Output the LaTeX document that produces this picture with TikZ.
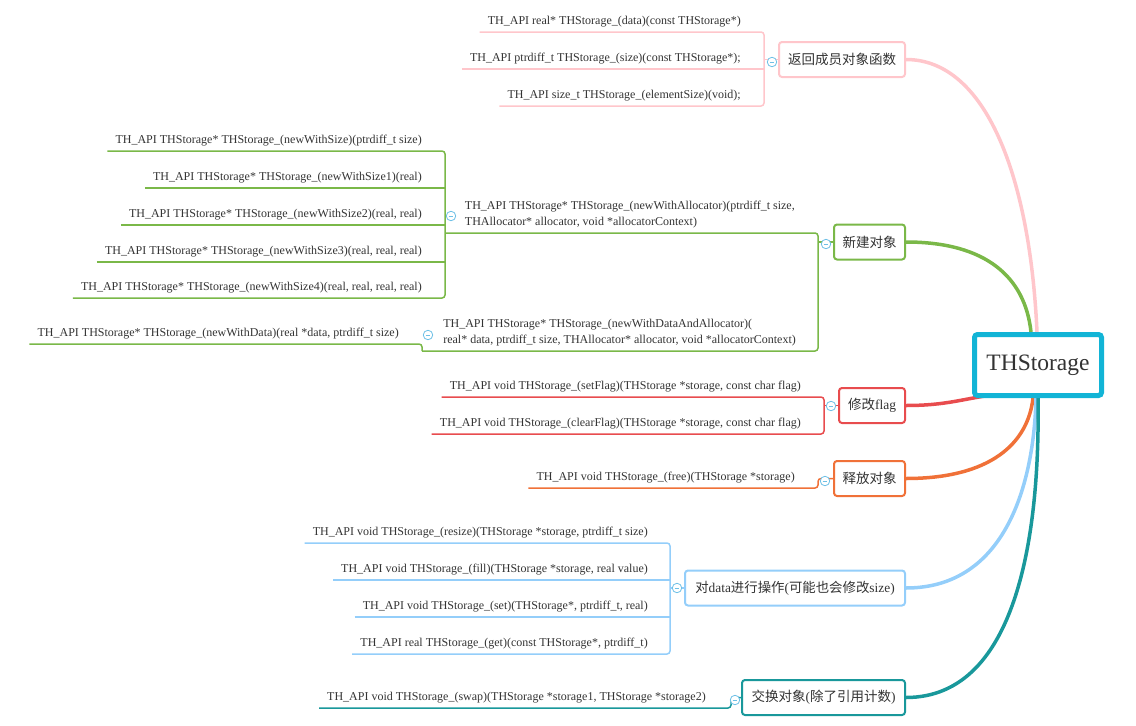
\documentclass[tikz,border=0pt]{standalone}
\usepackage{fontspec}
\setmainfont{Liberation Serif}
\newfontfamily\cjk{Noto Sans CJK SC}
\usetikzlibrary{backgrounds}
\definecolor{cpink}{RGB}{255,198,203}
\definecolor{cgreen}{RGB}{122,184,72}
\definecolor{cred}{RGB}{232,76,78}
\definecolor{corange}{RGB}{240,113,56}
\definecolor{clblue}{RGB}{148,206,250}
\definecolor{cteal}{RGB}{25,152,155}
\definecolor{croot}{RGB}{18,180,214}
\definecolor{cbtn}{RGB}{110,192,230}
\definecolor{ctext}{RGB}{51,51,51}
\begin{document}
\begin{tikzpicture}[x=1pt,y=-1pt,
  leaf/.style={inner xsep=0pt,inner ysep=0pt,text depth=7pt,text=ctext,
    font=\fontsize{12}{16}\selectfont},
  topic/.style={draw=#1,fill=white,line width=2pt,rounded corners=3pt,
    minimum height=35pt,inner xsep=4pt,text=ctext,
    font=\fontsize{13.5}{16}\selectfont,anchor=east},
  ln/.style={draw=#1,line width=1.5pt,rounded corners=3pt},
  br/.style={draw=#1,line width=3.5pt},
  btn/.style={circle,draw=cbtn,fill=white,line width=0.8pt,minimum size=9.5pt,inner sep=0pt,
    path picture={\draw[cbtn,line width=0.8pt]
      ([xshift=2.4pt]path picture bounding box.west) -- ([xshift=-2.4pt]path picture bounding box.east);}}
]
\useasboundingbox (0,0) rectangle (1136,726);

% root
\node[draw=croot,fill=white,line width=5pt,rounded corners=3pt,minimum width=127pt,minimum height=61pt,
  text=ctext,font=\fontsize{23.5}{26}\selectfont] (root) at (1038,365) {THStorage};

% main topics
\node[topic=cpink,minimum width=126pt] (b1) at (906,59.5) {\cjk 返回成员对象函数};
\node[topic=cgreen,minimum width=71pt] (b2) at (906,242) {\cjk 新建对象};
\node[topic=cred,minimum width=66pt] (b3) at (906,405.5) {{\cjk 修改}flag};
\node[topic=corange,minimum width=71pt] (b4) at (906,478.5) {\cjk 释放对象};
\node[topic=clblue,minimum width=220pt,font=\fontsize{13.4}{16}\selectfont] (b5) at (906,588) {{\cjk 对}data{\cjk 进行操作}({\cjk 可能也会修改}size)};
\node[topic=cteal,minimum width=163pt] (b6) at (906,697.5) {{\cjk 交换对象}({\cjk 除了引用计数})};

% branches
\begin{scope}[on background layer]
\draw[br=cpink] (b1.east) .. controls +(80,0) and +(-7,-155) .. ([xshift=-1pt]root.north);
\draw[br=cgreen] (b2.east) .. controls +(80,0) and +(-6,-55) .. ([xshift=-7pt]root.north);
\draw[br=cred] (b3.east) .. controls +(40,0) and +(-30,4) .. ([xshift=-46pt,yshift=3pt]root.south);
\draw[br=corange] (b4.east) .. controls +(85,0) and +(-5,45) .. ([xshift=-5pt]root.south);
\draw[br=clblue] (b5.east) .. controls +(100,0) and +(-2,85) .. ([xshift=-2pt]root.south);
\draw[br=cteal] (b6.east) .. controls +(115,0) and +(2,125) .. (root.south);
\end{scope}

% ---- pink group
\coordinate (j1) at (764,59.5);
\node[leaf,anchor=south east] (p1) at (741,32) {TH\_API real* THStorage\_(data)(const THStorage*)};
\node[leaf,anchor=south east] (p2) at (741,69) {TH\_API ptrdiff\_t THStorage\_(size)(const THStorage*);};
\node[leaf,anchor=south east] (p3) at (741,106) {TH\_API size\_t THStorage\_(elementSize)(void);};
\draw[ln=cpink] ([xshift=-8pt]p1.south west) -- (p1.south -| j1) -- (p3.south -| j1) -- ([xshift=-8pt]p3.south west);
\draw[ln=cpink] ([xshift=-8pt]p2.south west) -- (p2.south -| j1);
\draw[ln=cpink] (b1.west) -- (j1);
\node[btn] (c1) at (772,62) {};

% ---- green group
\coordinate (j2) at (818,242);
\coordinate (j3) at (445,233);
\coordinate (j4) at (422,351);
\node[leaf,anchor=south east,align=left] (ga) at (795,233) {TH\_API THStorage* THStorage\_(newWithAllocator)(ptrdiff\_t size,\\THAllocator* allocator, void *allocatorContext)};
\node[leaf,anchor=south east,align=left] (gb) at (796,351) {TH\_API THStorage* THStorage\_(newWithDataAndAllocator)(\\real* data, ptrdiff\_t size, THAllocator* allocator, void *allocatorContext)};
\draw[ln=cgreen] (j3) -- (ga.south -| j2) -- (gb.south -| j2) -- (j4);
\draw[ln=cgreen] (b2.west) -- (j2);
\node[btn] (c2) at (826,244) {};

\node[leaf,anchor=south east] (a1) at (422,151) {TH\_API THStorage* THStorage\_(newWithSize)(ptrdiff\_t size)};
\node[leaf,anchor=south east] (a2) at (422,188) {TH\_API THStorage* THStorage\_(newWithSize1)(real)};
\node[leaf,anchor=south east] (a3) at (422,225) {TH\_API THStorage* THStorage\_(newWithSize2)(real, real)};
\node[leaf,anchor=south east] (a4) at (422,262) {TH\_API THStorage* THStorage\_(newWithSize3)(real, real, real)};
\node[leaf,anchor=south east] (a5) at (422,298) {TH\_API THStorage* THStorage\_(newWithSize4)(real, real, real, real)};
\draw[ln=cgreen] ([xshift=-8pt]a1.south west) -- (a1.south -| j3) -- (a5.south -| j3) -- ([xshift=-8pt]a5.south west);
\foreach \n in {a2,a3,a4} \draw[ln=cgreen] ([xshift=-8pt]\n.south west) -- (\n.south -| j3);
\node[btn] (c3) at (451,216) {};

\node[leaf,anchor=south east] (d1) at (399,344) {TH\_API THStorage* THStorage\_(newWithData)(real *data, ptrdiff\_t size)};
\draw[ln=cgreen] (j4) -- (j4 |- d1.south) -- ([xshift=-8pt]d1.south west);
\node[btn] (c4) at (428,335) {};

% ---- red group
\coordinate (j6) at (824,405.5);
\node[leaf,anchor=south east] (r1) at (801,397) {TH\_API void THStorage\_(setFlag)(THStorage *storage, const char flag)};
\node[leaf,anchor=south east] (r2) at (801,434) {TH\_API void THStorage\_(clearFlag)(THStorage *storage, const char flag)};
\draw[ln=cred] ([xshift=-8pt]r1.south west) -- (r1.south -| j6) -- (r2.south -| j6) -- ([xshift=-8pt]r2.south west);
\draw[ln=cred] (b3.west) -- (j6);
\node[btn] (c5) at (831,406) {};

% ---- orange group
\coordinate (j7) at (818,478.5);
\node[leaf,anchor=south east] (o1) at (795,488) {TH\_API void THStorage\_(free)(THStorage *storage)};
\draw[ln=corange] (b4.west) -- (j7) -- (j7 |- o1.south) -- ([xshift=-8pt]o1.south west);
\node[btn] (c6) at (825,481) {};

% ---- light blue group
\coordinate (j8) at (670,588);
\node[leaf,anchor=south east] (l1) at (648,543) {TH\_API void THStorage\_(resize)(THStorage *storage, ptrdiff\_t size)};
\node[leaf,anchor=south east] (l2) at (648,580) {TH\_API void THStorage\_(fill)(THStorage *storage, real value)};
\node[leaf,anchor=south east] (l3) at (648,617) {TH\_API void THStorage\_(set)(THStorage*, ptrdiff\_t, real)};
\node[leaf,anchor=south east] (l4) at (648,654) {TH\_API real THStorage\_(get)(const THStorage*, ptrdiff\_t)};
\draw[ln=clblue] ([xshift=-8pt]l1.south west) -- (l1.south -| j8) -- (l4.south -| j8) -- ([xshift=-8pt]l4.south west);
\foreach \n in {l2,l3} \draw[ln=clblue] ([xshift=-8pt]\n.south west) -- (\n.south -| j8);
\draw[ln=clblue] (b5.west) -- (j8);
\node[btn] (c7) at (677,588) {};

% ---- teal group
\coordinate (j9) at (731,697.5);
\node[leaf,anchor=south east] (s1) at (706,708) {TH\_API void THStorage\_(swap)(THStorage *storage1, THStorage *storage2)};
\draw[ln=cteal] (b6.west) -- (j9) -- (j9 |- s1.south) -- ([xshift=-8pt]s1.south west);
\node[btn] (c8) at (735,700) {};
\end{tikzpicture}
\end{document}
